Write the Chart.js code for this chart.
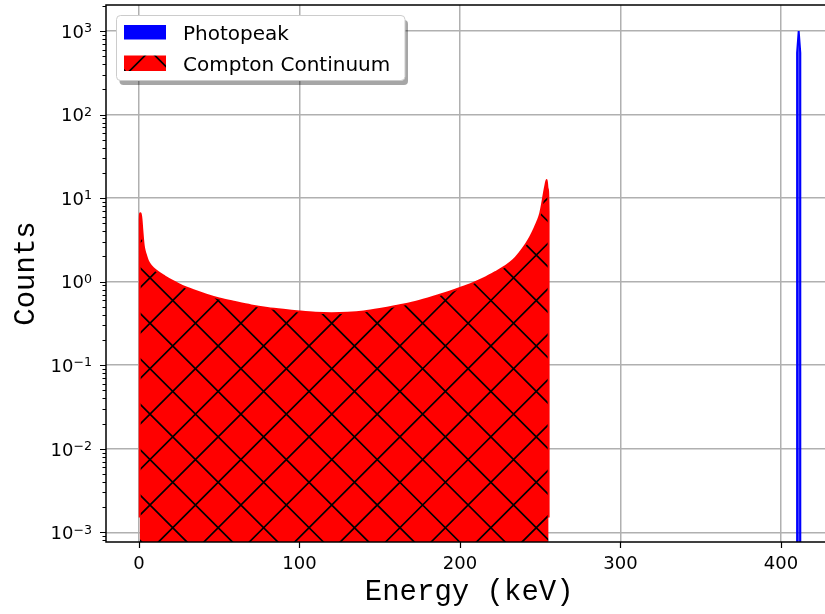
<!DOCTYPE html>
<html>
<head>
<meta charset="utf-8">
<script src="https://cdn.jsdelivr.net/npm/chart.js@4.4.1/dist/chart.umd.min.js"></script>
<style>
  html, body { margin: 0; padding: 0; overflow: hidden; background: #fff; }
  canvas { display: block; }
</style>
</head>
<body>
<canvas id="spectrum" width="840" height="614"></canvas>
<script>
// Compton continuum, energy in keV and counts per bin
const comptonEnergy = [0.5, 0.52, 0.8, 1.1, 1.6, 2.1, 2.6, 3.0, 3.6, 4.5, 5.5, 7, 9, 12, 16, 21, 27, 34, 42, 50,
  60, 70, 80, 90, 100, 110, 120, 130, 140, 150, 160, 170, 180, 190, 200, 208, 215, 222, 228, 233,
  237, 241, 244, 246.5, 248.5, 250, 251.3, 252.4, 253.3, 254, 254.6, 255.2, 255.22];
const comptonCounts = [0.0015, 5.5, 6.6, 6.5, 5.6, 4.2, 3.2, 2.7, 2.35, 2.05, 1.8, 1.6, 1.45, 1.3, 1.16, 1.02, 0.89, 0.79, 0.70, 0.63,
  0.57, 0.52, 0.485, 0.46, 0.44, 0.425, 0.42, 0.425, 0.44, 0.47, 0.51, 0.56, 0.63, 0.72, 0.84, 0.96, 1.1, 1.3, 1.52, 1.8,
  2.2, 2.8, 3.5, 4.4, 5.4, 6.6, 8.8, 11.8, 14.5, 16.5, 13, 7, 0.0015];

// Photopeak at 411 keV
const peakEnergy = [410, 410.01, 411, 411.99, 412];
const peakCounts = [0.0001, 550, 1000, 550, 0.0001];

const seriesLabels = ['Photopeak', 'Compton Continuum'];
const xTicks = [0, 100, 200, 300, 400];
const yTickExponents = [-3, -2, -1, 0, 1, 2, 3];

const canvas = document.getElementById('spectrum');
const ctx = canvas.getContext('2d');

// red fill with black 'x' hatching, lines repeat every 409/9 px
function makeHatch(fill) {
  const size = 409;
  const period = size / 9;
  const tile = document.createElement('canvas');
  tile.width = tile.height = size;
  const g = tile.getContext('2d');
  g.fillStyle = fill;
  g.fillRect(0, 0, size, size);
  g.strokeStyle = '#000';
  g.lineWidth = 1.7;
  g.beginPath();
  const c1 = ((-355 % period) + period) % period;
  const c2 = 655 % period;
  for (let k = -11; k <= 20; k++) {
    const a = c1 + k * period;   // x - y = a
    g.moveTo(a - 20, -20);
    g.lineTo(a + size + 20, size + 20);
    const b = c2 + k * period;   // x + y = b
    g.moveTo(b + 20, -20);
    g.lineTo(b - size - 20, size + 20);
  }
  g.stroke();
  return ctx.createPattern(tile, 'repeat');
}

const hatchRed = makeHatch('#ff0000');

function toPoints(xs, ys) {
  return xs.map((v, i) => ({ x: v, y: ys[i] }));
}

function supLabel(c, text, sup, right, baseline) {
  c.font = '12.6px "DejaVu Sans"';
  const sw = c.measureText(sup).width;
  c.textAlign = 'left';
  c.fillText(sup, right - sw, baseline - 5.6);
  c.font = '18px "DejaVu Sans"';
  c.textAlign = 'right';
  c.fillText(text, right - sw, baseline);
}

const titleFont = '29px "Courier New", "Nimbus Mono PS", "FreeMono", "Liberation Mono", monospace';

const decor = {
  id: 'decor',
  afterDatasetsDraw(chart) {
    const { ctx: c, chartArea: a, scales: { x, y } } = chart;
    c.save();
    c.strokeStyle = '#000';
    c.lineWidth = 1.5;
    c.strokeRect(a.left, a.top, a.right - a.left, a.bottom - a.top);

    // major and minor tick marks
    c.lineWidth = 1.2;
    c.beginPath();
    xTicks.forEach(v => {
      const px = Math.round(x.getPixelForValue(v)) + 0.5;
      c.moveTo(px, a.bottom);
      c.lineTo(px, a.bottom + 6);
    });
    yTickExponents.forEach(e => {
      const py = Math.round(y.getPixelForValue(Math.pow(10, e))) + 0.5;
      c.moveTo(a.left, py);
      c.lineTo(a.left - 6, py);
    });
    for (let e = -4; e <= 3; e++) {
      for (let m = 2; m <= 9; m++) {
        const v = m * Math.pow(10, e);
        if (v < y.min || v > y.max) continue;
        const py = Math.round(y.getPixelForValue(v)) + 0.5;
        c.moveTo(a.left, py);
        c.lineTo(a.left - 3.5, py);
      }
    }
    c.stroke();

    // tick labels
    c.fillStyle = '#000';
    c.font = '18px "DejaVu Sans"';
    c.textAlign = 'center';
    c.textBaseline = 'alphabetic';
    xTicks.forEach(v => c.fillText(String(v), x.getPixelForValue(v), 569));
    yTickExponents.forEach(e => {
      const py = y.getPixelForValue(Math.pow(10, e));
      supLabel(c, '10', e < 0 ? '\u2212' + (-e) : String(e), 92, py + 6.8);
    });

    // axis titles
    c.font = titleFont;
    c.textAlign = 'center';
    c.fillText('Energy (keV)', (a.left + a.right) / 2, 600);
    c.save();
    c.translate(33.5, (a.top + a.bottom) / 2);
    c.rotate(-Math.PI / 2);
    c.fillText('Counts', 0, 0);
    c.restore();

    // legend box with drop shadow
    const bx = 116.5, by = 15.5, bw = 288.5, bh = 65;
    c.fillStyle = 'rgba(0,0,0,0.35)';
    c.beginPath();
    c.roundRect(bx + 3, by + 4.5, bw, bh, 4);
    c.fill();
    c.fillStyle = '#fff';
    c.strokeStyle = '#cccccc';
    c.lineWidth = 1;
    c.beginPath();
    c.roundRect(bx, by, bw, bh, 4);
    c.fill();
    c.stroke();

    const ds = chart.data.datasets;
    c.fillStyle = '#0000ff';
    c.fillRect(124, 25, 42, 14.5);
    c.fillStyle = ds[1].backgroundColor;
    c.fillRect(124, 55.5, 42, 15.5);
    c.fillStyle = '#000';
    c.font = '20px "DejaVu Sans"';
    c.textAlign = 'left';
    c.fillText(ds[0].label, 183, 39.5);
    c.fillText(ds[1].label, 183, 70.5);
    c.restore();
  }
};

new Chart(ctx, {
  type: 'line',
  data: {
    datasets: [
      {
        label: seriesLabels[0],
        data: toPoints(peakEnergy, peakCounts),
        borderColor: '#0000ff',
        backgroundColor: 'rgba(0,0,255,0.7)',
        borderWidth: 2,
        fill: 'start',
        tension: 0,
        pointRadius: 0
      },
      {
        label: seriesLabels[1],
        data: toPoints(comptonEnergy, comptonCounts),
        borderColor: '#ff0000',
        backgroundColor: hatchRed,
        borderWidth: 2,
        fill: 'start',
        cubicInterpolationMode: 'monotone',
        pointRadius: 0
      }
    ]
  },
  options: {
    responsive: false,
    animation: false,
    devicePixelRatio: 1,
    layout: { padding: { top: 5, left: 0, right: 7.6, bottom: 0 } },
    plugins: {
      legend: { display: false },
      tooltip: { enabled: false }
    },
    scales: {
      x: {
        type: 'linear',
        min: -20.5,
        max: 432,
        afterBuildTicks: s => { s.ticks = xTicks.map(v => ({ value: v })); },
        afterFit: s => { s.height = 72; },
        ticks: { display: false },
        grid: { color: '#b0b0b0', lineWidth: 1.5, drawTicks: false },
        border: { display: false }
      },
      y: {
        type: 'logarithmic',
        min: Math.pow(10, -3.116),
        max: Math.pow(10, 3.311),
        afterBuildTicks: s => { s.ticks = yTickExponents.map(e => ({ value: Math.pow(10, e) })); },
        afterFit: s => { s.width = 106; },
        ticks: { display: false },
        grid: { color: '#b0b0b0', lineWidth: 1.5, drawTicks: false },
        border: { display: false }
      }
    }
  },
  plugins: [decor]
});
</script>
</body>
</html>
